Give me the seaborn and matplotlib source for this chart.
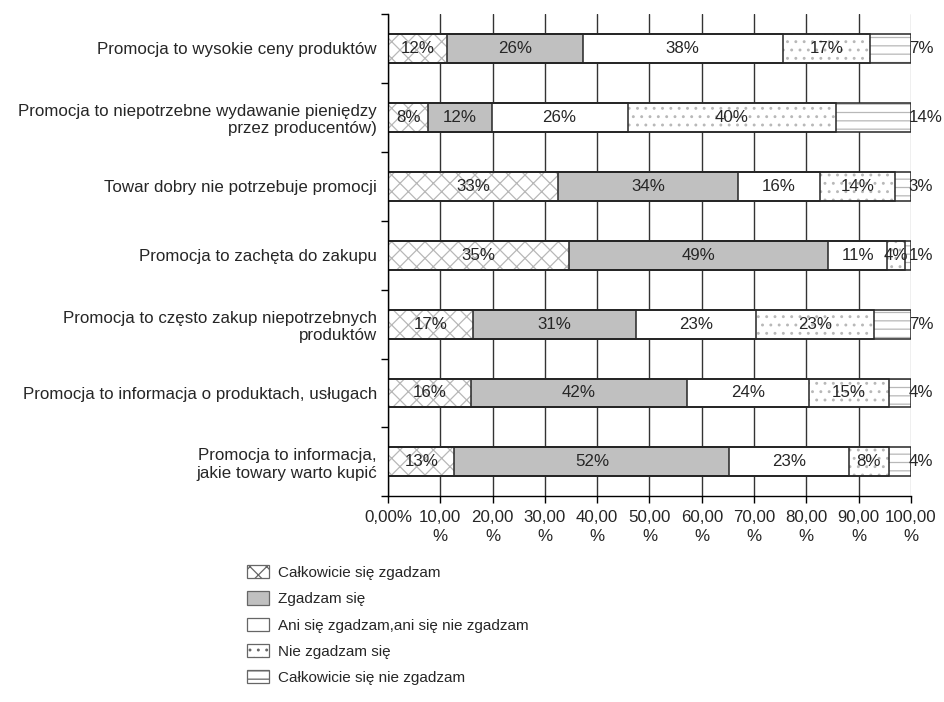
"""Stacked horizontal bar chart of opinions about promotion."""
import matplotlib
matplotlib.use("Agg")
import matplotlib.patches as mpatches
import matplotlib.pyplot as plt
import numpy as np
import seaborn as sns

CATEGORIES = [
    "Promocja to wysokie ceny produktów",
    "Promocja to niepotrzebne wydawanie pieniędzy\nprzez producentów)",
    "Towar dobry nie potrzebuje promocji",
    "Promocja to zachęta do zakupu",
    "Promocja to często zakup niepotrzebnych\nproduktów",
    "Promocja to informacja o produktach, usługach",
    "Promocja to informacja,\njakie towary warto kupić",
]
SERIES = [
    "Całkowicie się zgadzam",
    "Zgadzam się",
    "Ani się zgadzam,ani się nie zgadzam",
    "Nie zgadzam się",
    "Całkowicie się nie zgadzam",
]

# segment widths (%)
S1 = [11.3, 7.7, 32.6, 34.7, 16.3, 15.8, 12.7]
S2 = [25.9, 12.1, 34.3, 49.5, 31.1, 41.3, 52.6]
S3 = [38.3, 26.0, 15.8, 11.2, 23.0, 23.4, 22.8]
S4 = [16.7, 39.9, 14.2, 3.5, 22.5, 15.3, 7.7]
S5 = [7.8, 14.3, 3.1, 1.1, 7.2, 4.2, 4.2]

# data labels printed on the chart
L1 = [12, 8, 33, 35, 17, 16, 13]
L2 = [26, 12, 34, 49, 31, 42, 52]
L3 = [38, 26, 16, 11, 23, 24, 23]
L4 = [17, 40, 14, 4, 23, 15, 8]
L5 = [7, 14, 3, 1, 7, 4, 4]

XTICKS = list(range(0, 101, 10))
XTICK_LABELS = ["0,00%"] + [f"{t},00\n%" for t in XTICKS[1:]]

FACES = ["white", "#c0c0c0", "white", "white", "white"]
HATCHES = ["xx", None, None, "..", "--"]
HATCH_COLOR = "#b8b8b8"
EDGE = "#262626"
FS = 12.2

sns.set_style("white")
plt.rcParams["font.family"] = ["Liberation Sans", "DejaVu Sans"]
plt.rcParams["hatch.linewidth"] = 0.9

values = [S1, S2, S3, S4, S5]
labels = [L1, L2, L3, L4, L5]
cum = np.cumsum(np.array(values), axis=0)
BAR_W = 0.42

fig = plt.figure(figsize=(9.44, 7.02), dpi=100)
ax = fig.add_axes([0.411, 0.293, 0.554, 0.687])

# fills, drawn from the longest cumulative bar down so each layer covers the next
for i in reversed(range(len(SERIES))):
    sns.barplot(x=cum[i], y=CATEGORIES, orient="h", ax=ax, color=FACES[i],
                saturation=1, width=BAR_W, hatch=HATCHES[i],
                edgecolor=HATCH_COLOR, linewidth=0, errorbar=None)
# outlines
for i in reversed(range(len(SERIES))):
    sns.barplot(x=cum[i], y=CATEGORIES, orient="h", ax=ax, color=EDGE,
                fill=False, width=BAR_W, linewidth=1.1, errorbar=None)

# data labels
for i in range(len(SERIES)):
    start = cum[i] - np.array(values[i])
    for j, lab in enumerate(labels[i]):
        if i == len(SERIES) - 1:
            ax.text(99.6, j, f"{lab}%", ha="left", va="center", fontsize=FS)
        else:
            ax.text(start[j] + values[i][j] / 2, j, f"{lab}%",
                    ha="center", va="center", fontsize=FS)

ax.set_xlim(0, 100)
ax.set_ylim(len(CATEGORIES) - 0.5, -0.5)
ax.set_xticks(XTICKS)
ax.set_xticklabels(XTICK_LABELS, fontsize=FS, linespacing=1.3)
ax.set_xlabel("")
ax.set_ylabel("")
ax.tick_params(axis="y", length=0, labelsize=FS, pad=8)
ax.set_yticks(np.arange(-0.5, len(CATEGORIES)), minor=True)
ax.tick_params(axis="y", which="minor", length=5, width=1, color="black", left=True)
ax.tick_params(axis="x", length=5, width=1, color="black", bottom=True, pad=5)

ax.set_axisbelow(True)
ax.grid(axis="x", color="#333333", linewidth=1)
ax.get_xgridlines()[-1].set_color("#b0b0b0")
for side in ["top", "right"]:
    ax.spines[side].set_visible(False)
for side in ["left", "bottom"]:
    ax.spines[side].set_color("black")
    ax.spines[side].set_linewidth(1)

handles = [
    mpatches.Patch(facecolor=FACES[i], hatch=HATCHES[i], edgecolor="#666666",
                   linewidth=0.9, label=SERIES[i])
    for i in range(len(SERIES))
]
fig.legend(handles=handles, loc="upper left", bbox_to_anchor=(0.262, 0.195),
           frameon=False, fontsize=11, labelspacing=0.75, handlelength=1.4,
           handleheight=0.95, handletextpad=0.6, borderaxespad=0, borderpad=0)

fig.savefig("out.png", dpi=100)
